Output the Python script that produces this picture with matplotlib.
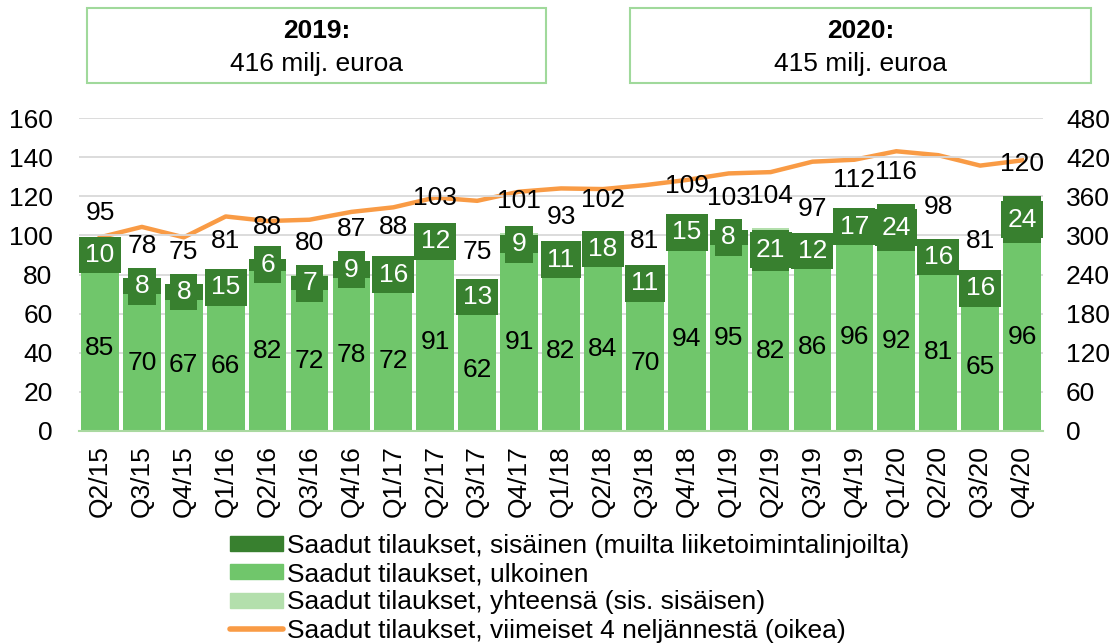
import matplotlib.pyplot as plt
import matplotlib.patches as mpatches
from matplotlib.lines import Line2D
import numpy as np

plt.rcParams['font.family'] = ['Liberation Sans', 'DejaVu Sans']

# data
kvartaalit = ['Q2/15', 'Q3/15', 'Q4/15', 'Q1/16', 'Q2/16', 'Q3/16', 'Q4/16',
              'Q1/17', 'Q2/17', 'Q3/17', 'Q4/17', 'Q1/18', 'Q2/18', 'Q3/18',
              'Q4/18', 'Q1/19', 'Q2/19', 'Q3/19', 'Q4/19', 'Q1/20', 'Q2/20',
              'Q3/20', 'Q4/20']
ulkoinen = [85, 70, 67, 66, 82, 72, 78, 72, 91, 62, 91, 82, 84, 70, 94, 95,
            82, 86, 96, 92, 81, 65, 96]
sisainen = [10, 8, 8, 15, 6, 7, 9, 16, 12, 13, 9, 11, 18, 11, 15, 8, 21, 12,
            17, 24, 16, 16, 24]
yhteensa = [95, 78, 75, 81, 88, 80, 87, 88, 103, 75, 101, 93, 102, 81, 109,
            103, 104, 97, 112, 116, 98, 81, 120]
viim_4q = [297, 313, 297, 329, 322, 324, 336, 343, 358, 353, 367, 372, 371,
           377, 385, 395, 397, 413, 416, 429, 423, 407, 415]

vuodet = ['2019:', '2020:']
vuosi_summat = ['416 milj. euroa', '415 milj. euroa']

c_tumma = '#38802f'
c_vaalea = '#70c66b'
c_yht = '#b3dfac'
c_oranssi = '#f99b45'
fs = 19

W, H = 1116, 643
fig = plt.figure(figsize=(W/100, H/100), dpi=100)
ax = fig.add_axes([79/W, 1-431/H, 964/W, 313/H])
ax2 = ax.twinx()

x = np.arange(len(kvartaalit))
w = 0.9

ax.bar(x, yhteensa, w, color=c_yht, zorder=1)
ax.bar(x, ulkoinen, w, color=c_vaalea, zorder=2)
ax.bar(x, sisainen, w, bottom=ulkoinen, color=c_tumma, zorder=2)

# data labels
for i in range(len(x)):
    ax.text(x[i], ulkoinen[i] / 2, str(ulkoinen[i]), ha='center', va='center',
            fontsize=fs, color='black', zorder=5)
    ax.text(x[i], ulkoinen[i] + sisainen[i] / 2, str(sisainen[i]),
            ha='center', va='center', fontsize=fs, color='white', zorder=6,
            bbox=dict(boxstyle='square,pad=0.24', fc=c_tumma, ec='none'))
    ax.annotate(str(yhteensa[i]), (x[i], yhteensa[i]), xytext=(0, 23),
                textcoords='offset points', ha='center', va='center',
                fontsize=fs, color='black', zorder=7, annotation_clip=False)

ax.set_ylim(0, 160)
ax.set_yticks(np.arange(0, 161, 20))
ax.set_xlim(-0.5, len(x) - 0.5)
ax.set_xticks(x)
ax.set_xticklabels(kvartaalit, rotation=90, fontsize=fs)
ax.tick_params(axis='both', length=0, labelsize=fs)
ax.tick_params(axis='x', pad=10)
ax.tick_params(axis='y', pad=19)
ax.grid(axis='y', color='#d9d9d9', linewidth=1.3, zorder=0)
ax.set_axisbelow(True)
for s in ['top', 'right', 'left']:
    ax.spines[s].set_visible(False)
ax.spines['bottom'].set_color('#a9d9a0')
ax.spines['bottom'].set_linewidth(1.5)

ax2.plot(x, viim_4q, color=c_oranssi, linewidth=3.2, zorder=3)
ax2.set_ylim(0, 480)
ax2.set_yticks(np.arange(0, 481, 60))
ax2.tick_params(axis='y', length=0, labelsize=fs, pad=16.5)
for s in ax2.spines.values():
    s.set_visible(False)
ax.set_zorder(ax2.get_zorder() + 1)
ax.patch.set_visible(False)

# top boxes
box_x = [87, 630]
box_w = [459, 461]
for bx, bw, v, summa in zip(box_x, box_w, vuodet, vuosi_summat):
    fig.patches.append(mpatches.Rectangle((bx/W, 1-83/H), bw/W, 75/H,
                                          transform=fig.transFigure,
                                          fc='white', ec='#a0d99b', lw=1.5))
    fig.text((bx + bw/2)/W, 1-31/H, v, ha='center', va='center',
             fontsize=fs, fontweight='bold')
    fig.text((bx + bw/2)/W, 1-64/H, summa, ha='center', va='center',
             fontsize=fs)

# legend
handles = [mpatches.Patch(color=c_tumma), mpatches.Patch(color=c_vaalea),
           mpatches.Patch(color=c_yht),
           Line2D([0], [0], color=c_oranssi, linewidth=4,
                  solid_capstyle='round')]
labels = ['Saadut tilaukset, sisäinen (muilta liiketoimintalinjoilta)',
          'Saadut tilaukset, ulkoinen',
          'Saadut tilaukset, yhteensä (sis. sisäisen)',
          'Saadut tilaukset, viimeiset 4 neljännestä (oikea)']
fig.legend(handles, labels, loc='upper left',
           bbox_to_anchor=(230/W, 1-534/H), frameon=False,
           fontsize=fs, handlelength=2.0, handleheight=0.5,
           handletextpad=0.15, labelspacing=0.16, borderpad=0,
           borderaxespad=0)

fig.savefig('out.png', dpi=100)
